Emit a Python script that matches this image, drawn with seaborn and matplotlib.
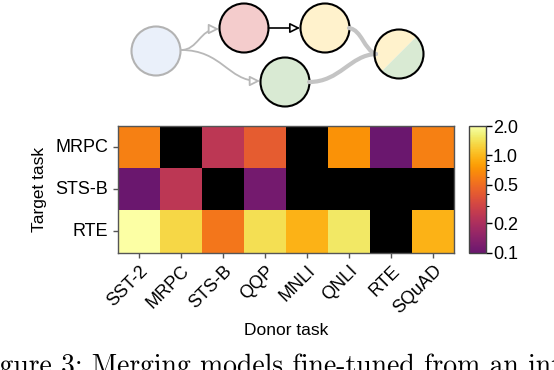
import numpy as np
import pandas as pd
import matplotlib
matplotlib.use("Agg")
import matplotlib.pyplot as plt
import seaborn as sns
from matplotlib.colors import LogNorm, ListedColormap
from matplotlib.patches import Circle, Wedge, FancyArrowPatch
from matplotlib.path import Path
from matplotlib.ticker import FixedLocator, FixedFormatter

# DATA

donor_tasks = ["SST-2", "MRPC", "STS-B", "QQP", "MNLI", "QNLI", "RTE", "SQuAD"]
target_tasks = ["MRPC", "STS-B", "RTE"]

# NaN = black cell (no result)
mrpc_vals = [0.6, np.nan, 0.24, 0.41, np.nan, 0.72, 0.1, 0.6]
stsb_vals = [0.1, 0.24, np.nan, 0.11, np.nan, np.nan, np.nan, np.nan]
rte_vals = [2.0, 1.3, 0.55, 1.4, 0.95, 1.5, np.nan, 0.95]

cbar_ticks = [0.1, 0.2, 0.5, 1.0, 2.0]
cbar_labels = ["0.1", "0.2", "0.5", "1.0", "2.0"]

caption = "Figure 3: Merging models fine-tuned from an intermediate"

df = pd.DataFrame([mrpc_vals, stsb_vals, rte_vals], index=target_tasks, columns=donor_tasks)

plt.rcParams["font.family"] = ["Liberation Sans", "DejaVu Sans"]

fig = plt.figure(figsize=(5.54, 3.70), dpi=100)
W, H = 554, 370

# SCHEMATIC (top)

ax_d = fig.add_axes([0, 1 - 118 / H, 1, 118 / H])
ax_d.set_xlim(0, W)
ax_d.set_ylim(118, 0)
ax_d.axis("off")

r = 24.5
ax_d.add_patch(Circle((156, 51), r, facecolor="#eaf0fa", edgecolor="#b3b3b3", lw=1.5))
ax_d.add_patch(Circle((244, 28), r, facecolor="#f4cccc", edgecolor="black", lw=1.5))
ax_d.add_patch(Circle((325, 28), r, facecolor="#fff2cc", edgecolor="black", lw=1.5))
ax_d.add_patch(Circle((285, 82), r, facecolor="#d9ead3", edgecolor="black", lw=1.5))
ax_d.add_patch(Wedge((399, 54), r, 135, 315, facecolor="#fff2cc", edgecolor="none"))
ax_d.add_patch(Wedge((399, 54), r, -45, 135, facecolor="#d9ead3", edgecolor="none"))

gray = "#b8b8b8"
# thick merge lines
for verts in [[(349, 28), (362, 30), (364, 50), (376, 54)],
              [(309, 82), (340, 82), (350, 55), (376, 54)]]:
    ax_d.add_patch(FancyArrowPatch(path=Path(verts, [1, 4, 4, 4]), arrowstyle="-",
                                   color="#c4c4c4", lw=3))
ax_d.add_patch(Circle((399, 54), r, facecolor="none", edgecolor="black", lw=1.5))

head = "-|>,head_length=6,head_width=3"
for verts in [[(181, 50), (198, 50), (200, 29), (219, 29)],
              [(181, 50), (222, 50), (228, 81), (260, 81)]]:
    ax_d.add_patch(FancyArrowPatch(path=Path(verts, [1, 4, 4, 4]), arrowstyle=head,
                                   edgecolor=gray, facecolor="white", lw=1.3))
ax_d.add_patch(FancyArrowPatch((268.5, 28), (300, 28), arrowstyle=head,
                               edgecolor="black", facecolor="white", lw=1.2,
                               shrinkA=0, shrinkB=0))

# HEATMAP

cmap = ListedColormap(plt.get_cmap("inferno")(np.linspace(0.3, 1.0, 256)))
cmap.set_bad("black")

ax = fig.add_axes([118 / W, 1 - 252.5 / H, (454 - 118) / W, (252.5 - 126) / H])
cax = fig.add_axes([469 / W, 1 - 252.5 / H, (486 - 469) / W, (252.5 - 126) / H])

sns.heatmap(df, ax=ax, cbar_ax=cax, cmap=cmap, norm=LogNorm(vmin=0.1, vmax=2.0))
ax.set_facecolor("black")

for s in ax.spines.values():
    s.set_visible(True)
    s.set_color("#555555")
    s.set_linewidth(1)
ax.tick_params(length=3.5, width=1, color="#555555", labelsize=13)
ax.set_xticklabels(donor_tasks, rotation=45, ha="right", rotation_mode="anchor")
ax.set_yticklabels(target_tasks, rotation=0)
ax.set_xlabel("Donor task", fontsize=12.5, labelpad=4)
ax.set_ylabel("Target task", fontsize=12.5, labelpad=6)

cb = ax.collections[0].colorbar
cb.outline.set_edgecolor("#444444")
cb.outline.set_linewidth(1)
cax.yaxis.set_major_locator(FixedLocator(cbar_ticks))
cax.yaxis.set_major_formatter(FixedFormatter(cbar_labels))
cax.yaxis.set_minor_locator(FixedLocator([0.3, 0.4, 0.6, 0.7, 0.8, 0.9]))
cax.yaxis.set_minor_formatter(FixedFormatter([]))
cax.tick_params(which="major", length=4, width=1, labelsize=13, pad=1)
cax.tick_params(which="minor", length=2, width=0.8)

# CAPTION (cut off at the figure edge, as in the source)
# size it so that "gure ... an" spans the same width as in the source

renderer = fig.canvas.get_renderer()
serif = ["cmr10", "DejaVu Serif"]

def text_width(s, fs):
    t = fig.text(0, 0, s, fontsize=fs, family=serif)
    w = t.get_window_extent(renderer).width
    t.remove()
    return w

w_fi = text_width("Fi", 10)
w_an = text_width("Figure 3: Merging models fine-tuned from an", 10)
fs = 10 * 520 / (w_an - w_fi)
x0 = -w_fi * fs / 10
baseline = 355 + 0.683 * fs * 100 / 72

fig.text(x0 / W, 1 - baseline / H, caption, fontsize=fs, family=serif,
         ha="left", va="baseline")

fig.savefig("out.png", dpi=100)
